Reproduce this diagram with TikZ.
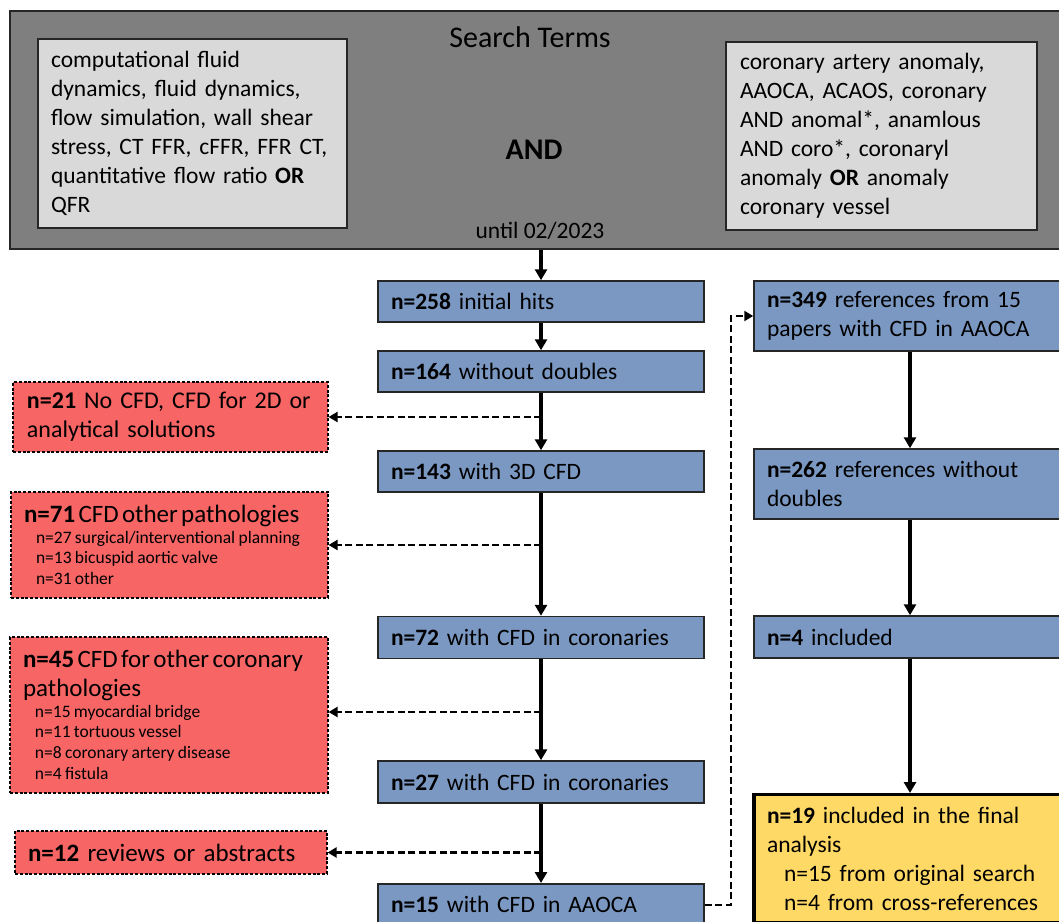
\documentclass[tikz,border=0pt]{standalone}
\usepackage{fontspec}
\setmainfont{Carlito}
\usetikzlibrary{arrows.meta,calc}
\definecolor{termgray}{HTML}{7F7F7F}
\definecolor{termlight}{HTML}{D9D9D9}
\definecolor{flowblue}{HTML}{7B98C2}
\definecolor{exclred}{HTML}{F86565}
\definecolor{finalyellow}{HTML}{FFD966}
\newcommand{\fsz}[2]{\fontsize{#1}{#2}\selectfont}
\setlength{\parindent}{0pt}
\begin{document}
\begin{tikzpicture}[x=1pt,y=-1pt,
  bluebx/.style={draw=black!85, line width=1.5pt, fill=flowblue, inner xsep=13pt, inner ysep=0pt,
    align=left, font=\fsz{23.5}{29}},
  redbx/.style={draw=black, line width=1.2pt, dash pattern=on 3pt off 1.8pt, fill=exclred,
    inner xsep=13pt, inner ysep=0pt, align=left},
  termbx/.style={draw=black!85, line width=1.5pt, fill=termlight, inner ysep=0pt, align=left,
    font=\fsz{23.5}{29}},
  flowarrow/.style={line width=3.3pt, -{Triangle[width=12pt,length=11pt]}},
  skiparrow/.style={line width=2.2pt, dash pattern=on 7pt off 3.5pt, -{Triangle[width=10pt,length=9pt]}},
]
\useasboundingbox (0,0) rectangle (1059,921);
\clip (0,0) rectangle (1059,921);

% search terms block
\node[draw=black!85, line width=1.8pt, fill=termgray, minimum width=1065pt, minimum height=238pt,
  inner sep=0pt] (terms) at (542.5,130) {};
\node[font=\fsz{30}{36}, inner sep=0pt] (title) at (530,37) {Search Terms};
\node[font=\fsz{30}{36}\bfseries, inner sep=0pt] (andword) at (534,150) {AND};
\node[font=\fsz{23.5}{29}, inner sep=0pt] (until) at (540,231) {until 02/2023};
\node[termbx, inner xsep=13pt, text width=283pt, minimum height=189pt] (lterms) at (192.5,133.5)
  {computational fluid\\ dynamics, fluid dynamics,\\ flow simulation, wall shear\\
   stress, CT FFR, cFFR, FFR CT,\\ quantitative flow ratio \textbf{OR}\\ QFR};
\node[termbx, inner xsep=14pt, text width=283pt, minimum height=188pt] (rterms) at (881.5,136)
  {coronary artery anomaly,\\ AAOCA, ACAOS, coronary\\ AND anomal*, anamlous\\
   AND coro*, coronaryl\\ anomaly \textbf{OR} anomaly\\ coronary vessel};

% main column
\node[bluebx, text width=300pt, minimum height=41pt] (n258) at (541,301.5) {\textbf{n=258} initial hits};
\node[bluebx, text width=300pt, minimum height=41pt] (n164) at (541,371.5) {\textbf{n=164} without doubles};
\node[bluebx, text width=300pt, minimum height=41pt] (n143) at (541,471.5) {\textbf{n=143} with 3D CFD};
\node[bluebx, text width=300pt, minimum height=42pt] (n72) at (541,637.5) {\textbf{n=72} with CFD in coronaries};
\node[bluebx, text width=300pt, minimum height=42pt] (n27) at (541,782) {\textbf{n=27} with CFD in coronaries};
\node[bluebx, text width=300pt, minimum height=42pt, anchor=north] (n15) at (541,883) {\textbf{n=15} with CFD in AAOCA};

% right column
\node[bluebx, text width=286pt, minimum height=70pt] (n349) at (910,316)
  {\textbf{n=349} references from 15\\ papers with CFD in AAOCA};
\node[bluebx, text width=286pt, minimum height=70pt] (n262) at (910,484)
  {\textbf{n=262} references without\\ doubles};
\node[bluebx, text width=286pt, minimum height=42pt] (n4) at (910,637) {\textbf{n=4} included};
\node[draw=black, line width=3.4pt, fill=finalyellow, anchor=north, inner xsep=13pt, inner ysep=12pt,
  text width=286pt, align=left, font=\fsz{23.5}{29}] (n19) at (910,793)
  {\textbf{n=19} included in the final\\ analysis\\ \hspace*{17pt}n=15 from original search\\
   \hspace*{17pt}n=4 from cross-references\par\vspace{30pt}};

% exclusion boxes
\node[redbx, inner xsep=14pt, text width=287pt, minimum height=70pt, font=\fsz{24}{29}] (n21) at (170.5,417)
  {\textbf{n=21} No CFD, CFD for 2D or\\ analytical solutions};
\node[redbx, inner xsep=13pt, text width=291pt, minimum height=106pt] (n71) at (169.5,545)
  {\fsz{25}{29}\textbf{n=71} CFD other pathologies\par
   \fsz{17.5}{20.5}\hspace*{12pt}n=27 surgical/interventional planning\\
   \hspace*{12pt}n=13 bicuspid aortic valve\\ \hspace*{12pt}n=31 other\par};
\node[redbx, inner xsep=13pt, text width=292pt, minimum height=156pt] (n45) at (169,715)
  {\fsz{25}{28.5}\textbf{n=45} CFD for other coronary\\ pathologies\par
   \fsz{17.5}{20.7}\hspace*{12pt}n=15 myocardial bridge\\ \hspace*{12pt}n=11 tortuous vessel\\
   \hspace*{12pt}n=8 coronary artery disease\\ \hspace*{12pt}n=4 fistula\par};
\node[redbx, inner xsep=13pt, text width=286pt, minimum height=43pt, font=\fsz{25}{29}] (n12) at (171,852.5)
  {\textbf{n=12} reviews or abstracts};

% main flow arrows
\draw[flowarrow] (terms.south -| n258.north) -- (n258.north);
\draw[flowarrow] (n258) -- (n164);
\draw[flowarrow] (n164) -- (n143);
\draw[flowarrow] (n143) -- (n72);
\draw[flowarrow] (n72) -- (n27);
\draw[flowarrow] (n27) -- (n15);
\draw[flowarrow] (n349) -- (n262);
\draw[flowarrow] (n262) -- (n4);
\draw[flowarrow] (n4.south) -- (n19.north);

% exclusions
\draw[skiparrow] (n164.south |- n21.east) -- (n21.east);
\draw[skiparrow] (n143.south |- n71.east) -- (n71.east);
\coordinate (e45) at ($(n45.east)+(0,-3)$);
\draw[skiparrow] (n72.south |- e45) -- (e45);
\draw[skiparrow] (n27.south |- n12.east) -- (n12.east);

% cross references
\draw[skiparrow] (n15.east) -- ++(26,0) |- (n349.west);
\end{tikzpicture}
\end{document}
